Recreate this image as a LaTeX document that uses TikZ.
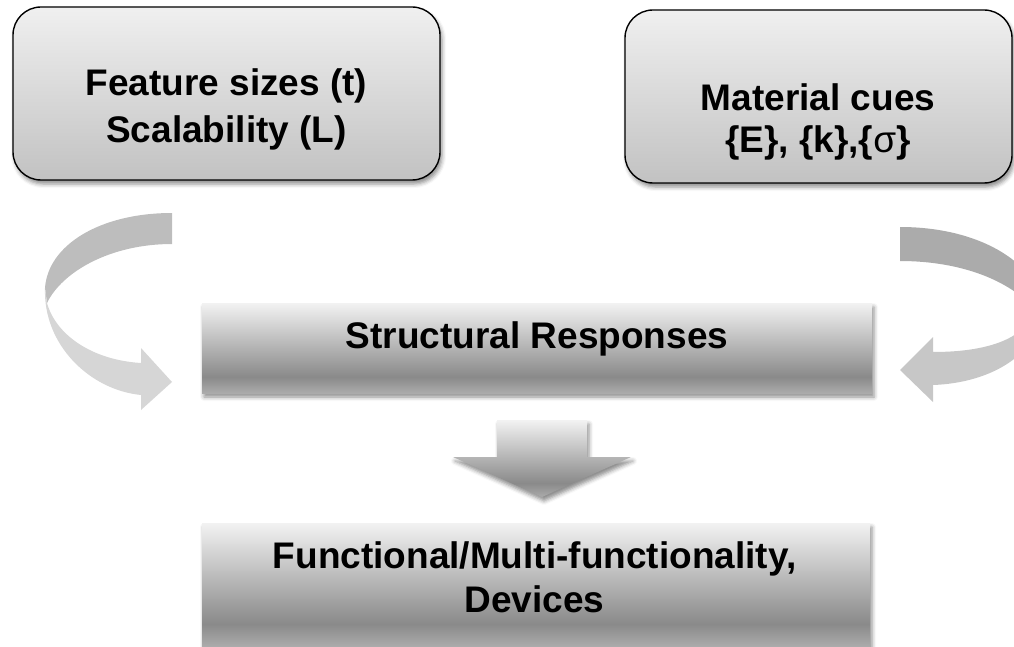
\documentclass[tikz,border=0pt]{standalone}
\usepackage{fontspec}
\setmainfont{Liberation Sans}
\usetikzlibrary{shadows.blur}

% light top, dark band near the bottom edge
\pgfdeclareverticalshading{greybar}{100bp}{color(0bp)=(black!33); color(25bp)=(black!33); color(34bp)=(black!46); color(75bp)=(black!5); color(100bp)=(black!5)}

\tikzset{
  soft/.style={blur shadow={shadow xshift=2pt, shadow yshift=-4pt, shadow blur radius=4pt, shadow opacity=45}},
  cue/.style={draw=black, line width=1.4pt, rounded corners=28pt, inner sep=0pt,
    top color=black!6, bottom color=black!24, soft},
  bar/.style={shade, shading=greybar, inner sep=0pt, soft},
  lbl/.style={font=\bfseries\fontsize{37}{47}\selectfont, align=center, inner sep=0pt},
}

\begin{document}
\begin{tikzpicture}[x=1pt,y=-1pt]
  \useasboundingbox (0,0) rectangle (1014,647);
  \clip (0,0) rectangle (1014,647);

  % the two inputs
  \node[cue, minimum width=427pt, minimum height=173pt] (feat) at (226.5,93.5) {};
  \node[cue, minimum width=387pt, minimum height=173pt] (mat) at (818.5,96.5) {};
  \node[lbl] (featlabel) at (226.5,109) {Feature sizes (t)\\Scalability (L)};
  \node[lbl, font=\bfseries\fontsize{37}{42}\selectfont] (matlabel) at (818,121.7)
    {Material cues\\\{E\}, \{k\},\{{\mdseries σ}\}};

  % responses and the outcome
  \node[bar, minimum width=670pt, minimum height=90pt] (resp) at (537,348) {};
  \node[lbl, anchor=base] (resplabel) at (537,348) {Structural Responses};
  \node[bar, minimum width=668pt, minimum height=123pt] (func) at (536,584.5) {};
  \node[lbl, font=\bfseries\fontsize{37}{44}\selectfont] (funclabel) at (534.5,577.7)
    {Functional/Multi-functionality,\\Devices};

  % block arrow down
  \shade[shading=greybar, soft] (497,420) -- (587,420) -- (587,457) -- (631,457)
    -- (542,497) -- (453,457) -- (497,457) -- cycle;

  % left ribbon arrow
  \fill[black!26] (172,213) .. controls (100,213) and (48,245) .. (45,288)
    -- (47,303) .. controls (62,272) and (110,244) .. (172,244) -- cycle;
  \fill[black!16] (45,288) .. controls (43,345) and (90,390) .. (141,395)
    -- (141,410) -- (172,382) -- (141,348) -- (141,363)
    .. controls (92,360) and (56,335) .. (47,303) -- cycle;

  % right ribbon arrow, runs off the edge
  \fill[black!33] (900,227) .. controls (970,227) and (1030,255) .. (1045,305)
    -- (1035,310) .. controls (1010,280) and (960,261) .. (900,261) -- cycle;
  \fill[black!22] (1045,305) .. controls (1040,355) and (990,383) .. (933,385)
    -- (933,402) -- (900,370) -- (933,337) -- (933,352)
    .. controls (985,352) and (1025,340) .. (1035,310) -- cycle;
\end{tikzpicture}
\end{document}
